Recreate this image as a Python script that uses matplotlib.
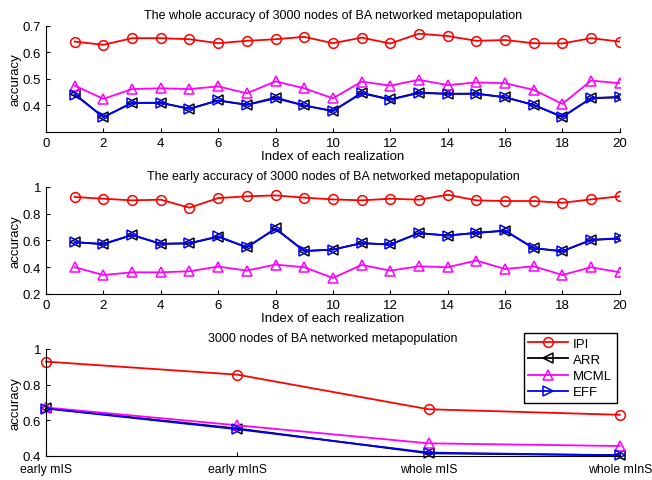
import matplotlib
matplotlib.use("Agg")
import matplotlib.pyplot as plt
import numpy as np

plt.rcParams["font.family"] = ["Liberation Sans", "DejaVu Sans"]

realization = np.arange(1, 21)

whole_ipi = [0.641, 0.629, 0.654, 0.654, 0.650, 0.635, 0.644, 0.650, 0.659, 0.635,
             0.656, 0.634, 0.671, 0.662, 0.644, 0.647, 0.635, 0.634, 0.654, 0.641]
whole_mcml = [0.475, 0.425, 0.462, 0.465, 0.462, 0.472, 0.446, 0.491, 0.465, 0.427,
              0.490, 0.475, 0.497, 0.477, 0.487, 0.484, 0.459, 0.406, 0.494, 0.484]
whole_arr = [0.443, 0.356, 0.410, 0.410, 0.388, 0.419, 0.403, 0.430, 0.400, 0.379,
             0.448, 0.423, 0.449, 0.444, 0.445, 0.431, 0.402, 0.356, 0.428, 0.432]
whole_eff = [0.441, 0.356, 0.410, 0.410, 0.387, 0.419, 0.402, 0.427, 0.400, 0.379,
             0.446, 0.422, 0.447, 0.444, 0.444, 0.431, 0.402, 0.358, 0.427, 0.431]

early_ipi = [0.925, 0.912, 0.900, 0.905, 0.845, 0.917, 0.930, 0.937, 0.920, 0.907,
             0.900, 0.912, 0.905, 0.942, 0.900, 0.895, 0.895, 0.882, 0.907, 0.930]
early_mcml = [0.400, 0.342, 0.362, 0.362, 0.370, 0.405, 0.375, 0.420, 0.400, 0.320,
              0.417, 0.375, 0.407, 0.400, 0.450, 0.387, 0.407, 0.342, 0.400, 0.362]
early_arr = [0.587, 0.572, 0.640, 0.575, 0.578, 0.628, 0.548, 0.690, 0.522, 0.532,
             0.580, 0.570, 0.655, 0.637, 0.657, 0.672, 0.542, 0.520, 0.603, 0.615]
early_eff = [0.587, 0.575, 0.642, 0.575, 0.580, 0.630, 0.550, 0.687, 0.520, 0.532,
             0.580, 0.570, 0.655, 0.637, 0.657, 0.675, 0.542, 0.520, 0.605, 0.617]

scenarios = ["early mIS", "early mInS", "whole mIS", "whole mInS"]
summary_ipi = [0.929, 0.856, 0.662, 0.631]
summary_arr = [0.668, 0.554, 0.415, 0.404]
summary_mcml = [0.672, 0.572, 0.471, 0.456]
summary_eff = [0.666, 0.550, 0.419, 0.404]

methods = ["IPI", "ARR", "MCML", "EFF"]
styles = {
    "IPI": dict(color="#ff0000", marker="o"),
    "ARR": dict(color="#000000", marker="<"),
    "MCML": dict(color="#ff00ff", marker="^"),
    "EFF": dict(color="#0000ff", marker=">"),
}


def _draw(ax, x, series):
    for name, values in zip(methods, series):
        ax.plot(x, values, linewidth=1.3, markersize=7, markerfacecolor="none",
                markeredgewidth=1.1, label=name, **styles[name])


def _style(ax):
    ax.spines[["top", "right"]].set_visible(False)
    ax.tick_params(direction="in", labelsize=9.5, length=3)
    ax.set_ylabel("accuracy", fontsize=9.5, labelpad=1)


fig = plt.figure(figsize=(6.52, 4.81), dpi=100)

ax1 = fig.add_axes([0.0706, 0.7235, 0.880, 0.2204])
_draw(ax1, realization, [whole_ipi, whole_arr, whole_mcml, whole_eff])
ax1.set_xlim(0, 20)
ax1.set_ylim(0.3, 0.7)
ax1.set_xticks(range(0, 21, 2))
ax1.set_yticks([0.4, 0.5, 0.6, 0.7])
ax1.set_yticklabels(["0.4", "0.5", "0.6", "0.7"])
ax1.set_title("The whole accuracy of 3000 nodes of BA networked metapopulation", fontsize=9, pad=6)
ax1.set_xlabel("Index of each realization", fontsize=9.5, labelpad=1)
_style(ax1)

ax2 = fig.add_axes([0.0706, 0.3867, 0.880, 0.2225])
_draw(ax2, realization, [early_ipi, early_arr, early_mcml, early_eff])
ax2.set_xlim(0, 20)
ax2.set_ylim(0.2, 1.0)
ax2.set_xticks(range(0, 21, 2))
ax2.set_yticks([0.2, 0.4, 0.6, 0.8, 1.0])
ax2.set_yticklabels(["0.2", "0.4", "0.6", "0.8", "1"])
ax2.set_title("The early accuracy of 3000 nodes of BA networked metapopulation", fontsize=9, pad=6)
ax2.set_xlabel("Index of each realization", fontsize=9.5, labelpad=1)
_style(ax2)

ax3 = fig.add_axes([0.0706, 0.0499, 0.880, 0.2225])
pos = np.arange(1, len(scenarios) + 1)
_draw(ax3, pos, [summary_ipi, summary_arr, summary_mcml, summary_eff])
ax3.set_xlim(1, 4)
ax3.set_ylim(0.4, 1.0)
ax3.set_xticks(pos)
ax3.set_xticklabels(scenarios)
ax3.set_yticks([0.4, 0.6, 0.8, 1.0])
ax3.set_yticklabels(["0.4", "0.6", "0.8", "1"])
ax3.set_title("3000 nodes of BA networked metapopulation", fontsize=9, pad=6)
_style(ax3)
ax3.tick_params(axis="x", pad=5, labelsize=8.8)
for c in ax3.get_children():
    c.set_clip_on(False)
leg = ax3.legend(loc="upper right", bbox_to_anchor=(0.9948, 1.15), borderaxespad=0,
                 fontsize=9.5, numpoints=1, fancybox=False, edgecolor="black",
                 framealpha=1, handlelength=3.0, borderpad=0.35, labelspacing=0.3,
                 handletextpad=0.4)
leg.get_frame().set_linewidth(1.0)

fig.savefig("out.png", dpi=100)
